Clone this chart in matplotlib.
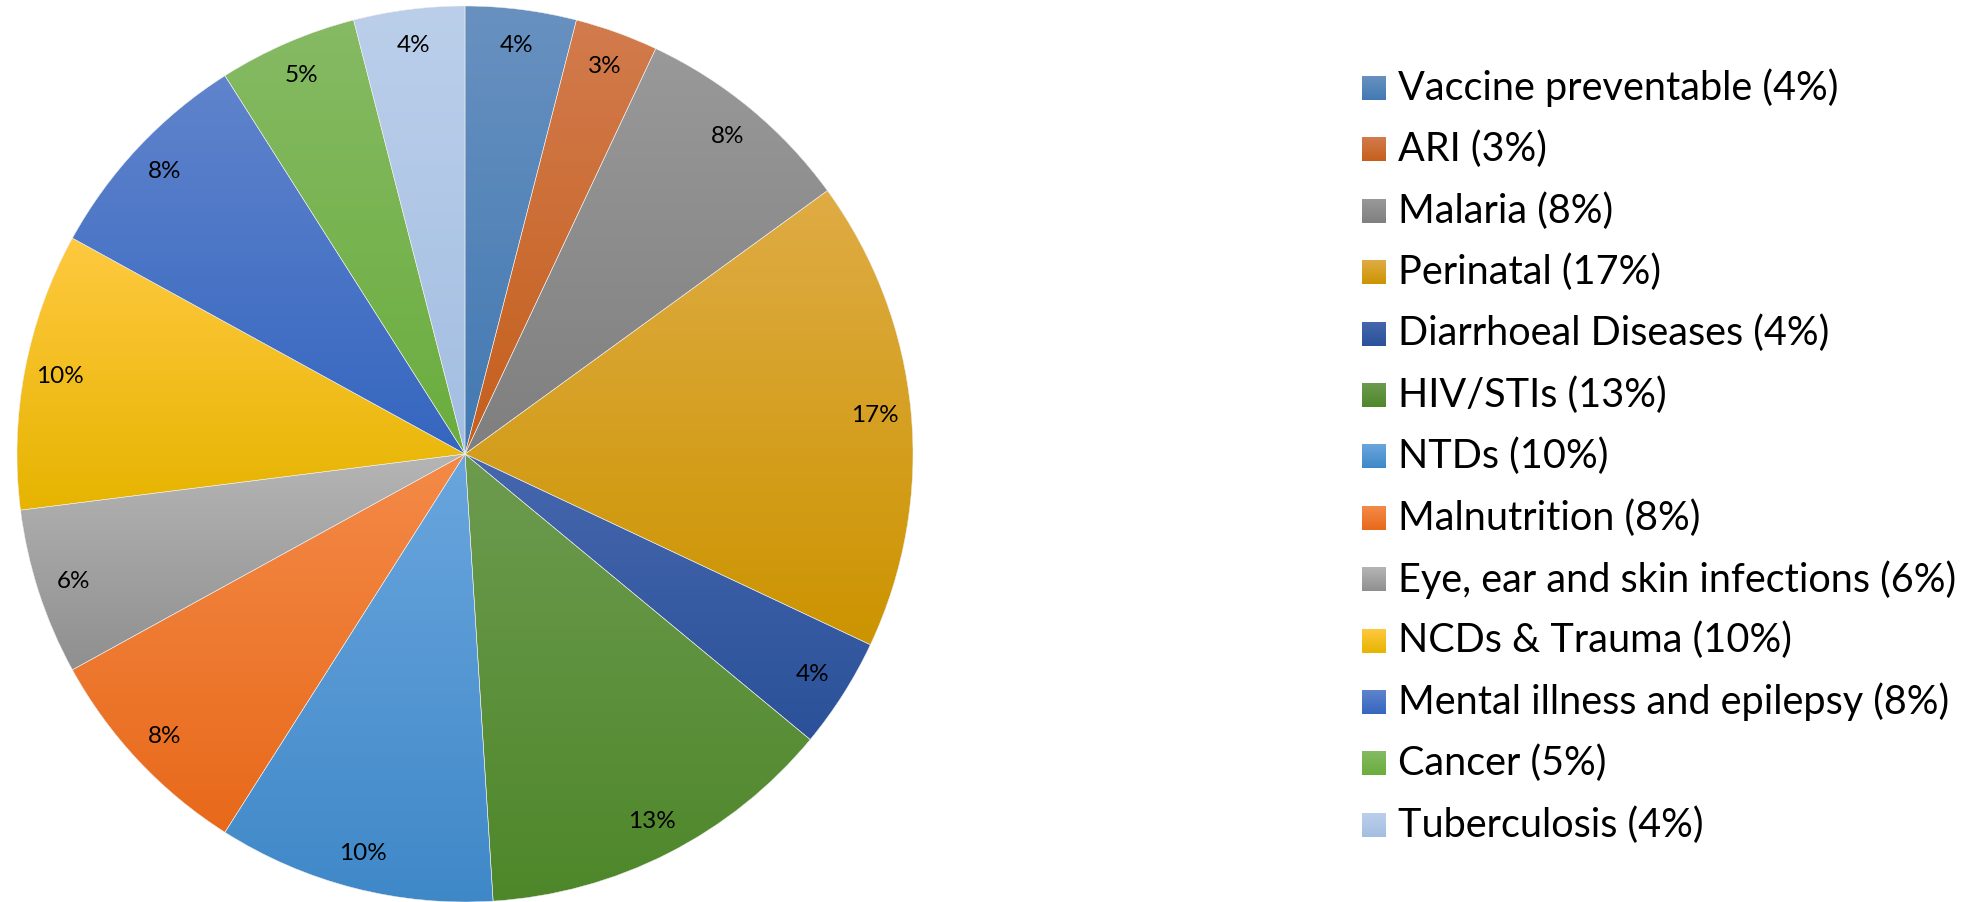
import numpy as np
import matplotlib
matplotlib.use('Agg')
import matplotlib.pyplot as plt
from matplotlib.colors import to_rgb

plt.rcParams['font.family'] = ['Lato', 'DejaVu Sans']

# data
causes = ['Vaccine preventable', 'ARI', 'Malaria', 'Perinatal', 'Diarrhoeal Diseases',
          'HIV/STIs', 'NTDs', 'Malnutrition', 'Eye, ear and skin infections',
          'NCDs & Trauma', 'Mental illness and epilepsy', 'Cancer', 'Tuberculosis']
share = [4, 3, 8, 17, 4, 13, 10, 8, 6, 10, 8, 5, 4]

# gradient colours per slice (top, bottom)
top_cols = ['#6891C0', '#D27B4D', '#999999', '#DFAC45', '#4667AE', '#6D9B4F', '#6AA6DE',
            '#F48A48', '#B5B5B5', '#FFC940', '#6084CC', '#86BA64', '#BBCFEA']
bot_cols = ['#4279B2', '#C55F1C', '#7F7F7F', '#CC9400', '#2A5199', '#4E872A', '#3F88C8',
            '#E8691A', '#8F8F8F', '#E6B400', '#3566C0', '#6AAD3D', '#A3BEE2']


def grad(c1, c2, n=256):
    a = np.array(to_rgb(c1))
    b = np.array(to_rgb(c2))
    t = np.linspace(0, 1, n)[:, None]
    return (a + (b - a) * t)[:, None, :]


fig = plt.figure(figsize=(19.78, 9.02), dpi=100)
W, H = 1978, 902
cx, cy, R = 465, 454, 448
ax = fig.add_axes([(cx - R) / W, (H - cy - R) / H, 2 * R / W, 2 * R / H])

wedges, texts = ax.pie(share, startangle=90, counterclock=False,
                       labels=[f'{v}%' for v in share], labeldistance=0.92,
                       wedgeprops=dict(edgecolor='#EDEDED', linewidth=0.35),
                       textprops=dict(fontsize=17.5, color='black', ha='center', va='center'))

for i, w in enumerate(wedges):
    ext = w.get_path().get_extents()
    w.set_facecolor('none')
    w.set_zorder(3)
    im = ax.imshow(grad(top_cols[i], bot_cols[i]), extent=(ext.x0, ext.x1, ext.y0, ext.y1),
                   origin='upper', aspect='auto', zorder=2, interpolation='bilinear')
    im.set_clip_path(w)

for t in texts:
    t.set_zorder(5)
    t.set_horizontalalignment('center')
    t.set_verticalalignment('center')

ax.set_xlim(-1, 1)
ax.set_ylim(-1, 1)
ax.set_aspect('equal')
ax.axis('off')

# legend drawn by hand so the squares keep the gradient
lax = fig.add_axes([0, 0, 1, 1])
lax.set_xlim(0, W)
lax.set_ylim(H, 0)
lax.axis('off')
y0, dy = 88, 61.4
for i, name in enumerate(causes):
    y = y0 + i * dy
    lax.imshow(grad(top_cols[i], bot_cols[i]), extent=(1362, 1386, y + 12, y - 12),
               origin='upper', aspect='auto', interpolation='bilinear')
    lax.text(1398, y, f'{name} ({share[i]}%)', fontsize=28.5, va='center', ha='left')
lax.set_xlim(0, W)
lax.set_ylim(H, 0)

fig.savefig('out.png', dpi=100, facecolor='white')
